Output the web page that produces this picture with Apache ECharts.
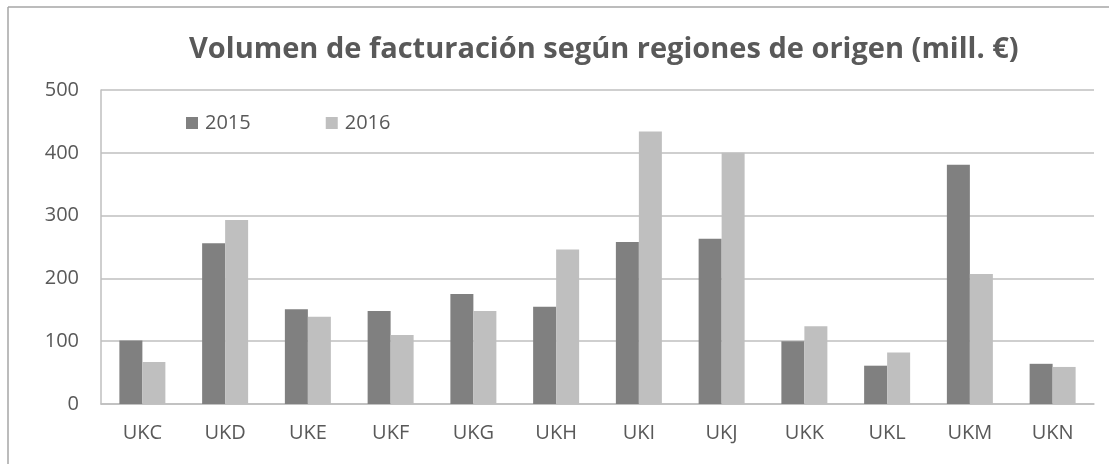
<!DOCTYPE html>
<html>
<head>
<meta charset="utf-8">
<script src="https://cdn.jsdelivr.net/npm/echarts@6/dist/echarts.min.js"></script>
<style>
  html, body { margin: 0; padding: 0; background: #fff; }
  #chart { width: 1109px; height: 464px; }
</style>
</head>
<body>
<div id="chart"></div>
<script>
const TITLE = "Volumen de facturación según regiones de origen (mill. €)";
const regions = ["UKC", "UKD", "UKE", "UKF", "UKG", "UKH", "UKI", "UKJ", "UKK", "UKL", "UKM", "UKN"];
const years = ["2015", "2016"];
const values2015 = [101, 256, 151, 148, 175, 155, 258, 263, 100, 61, 381, 64];
const values2016 = [67, 293, 139, 110, 148, 246, 434, 400, 124, 82, 207, 59];
const yTicks = [0, 100, 200, 300, 400, 500];

const C2015 = "#808080";
const C2016 = "#bfbfbf";
const TEXT = "#595959";
const GRID = "#bfbfbf";
const FONT = "'Open Sans', 'Noto Sans', sans-serif";

const chart = echarts.init(document.getElementById("chart"), null, { renderer: "canvas" });

chart.setOption({
  animation: false,
  textStyle: { fontFamily: FONT },
  title: {
    text: TITLE,
    left: 184,
    top: 30,
    textStyle: { color: TEXT, fontSize: 29, fontWeight: "bold", fontFamily: FONT },
  },
  legend: {
    data: years,
    left: 181,
    top: 108,
    icon: "rect",
    itemWidth: 12,
    itemHeight: 12,
    itemGap: 75,
    textStyle: { color: TEXT, fontSize: 20, fontFamily: FONT, padding: [0, 0, 0, 2] },
  },
  grid: { left: 101, right: 15, top: 90, bottom: 60, containLabel: false },
  xAxis: {
    type: "category",
    data: regions,
    axisLine: { lineStyle: { color: GRID, width: 1.5 } },
    axisTick: { show: false },
    axisLabel: { color: TEXT, fontSize: 20, margin: 19, fontFamily: FONT },
  },
  yAxis: {
    type: "value",
    min: yTicks[0],
    max: yTicks[yTicks.length - 1],
    interval: 100,
    axisLine: { show: true, lineStyle: { color: GRID, width: 1.5 } },
    axisTick: { show: false },
    axisLabel: { color: TEXT, fontSize: 20, margin: 22, fontFamily: FONT },
    splitLine: { lineStyle: { color: GRID, width: 1.5 } },
  },
  graphic: [
    { type: "line", shape: { x1: 8, y1: 7, x2: 1109, y2: 7 }, style: { stroke: "#a6a6a6", lineWidth: 1.5 } },
    { type: "line", shape: { x1: 8, y1: 7, x2: 8, y2: 464 }, style: { stroke: "#a6a6a6", lineWidth: 1.5 } },
  ],
  series: [
    { name: years[0], type: "bar", data: values2015, barWidth: 23, barGap: "0%", itemStyle: { color: C2015 } },
    { name: years[1], type: "bar", data: values2016, barWidth: 23, barGap: "0%", itemStyle: { color: C2016 } },
  ],
});
</script>
</body>
</html>
